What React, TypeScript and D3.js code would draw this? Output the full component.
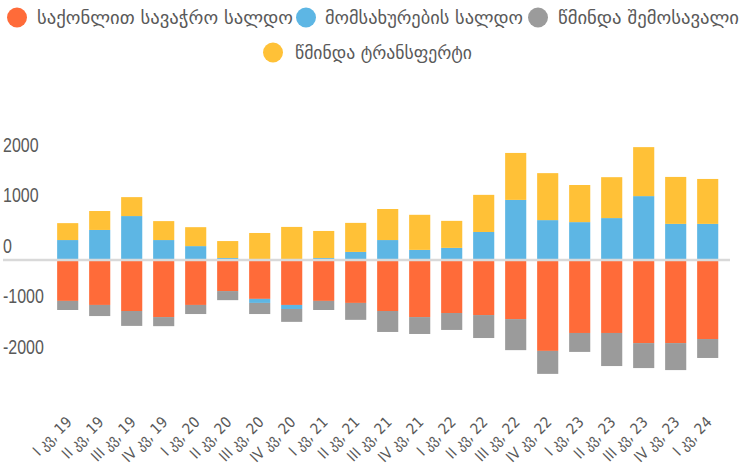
import React from "react"
import * as d3 from "d3"

// კვარტლები
const quarters = [
  "I კვ, 19", "II კვ, 19", "III კვ, 19", "IV კვ, 19",
  "I კვ, 20", "II კვ, 20", "III კვ, 20", "IV კვ, 20",
  "I კვ, 21", "II კვ, 21", "III კვ, 21", "IV კვ, 21",
  "I კვ, 22", "II კვ, 22", "III კვ, 22", "IV კვ, 22",
  "I კვ, 23", "II კვ, 23", "III კვ, 23", "IV კვ, 23",
  "I კვ, 24",
]

const tradeBalance = [-810, -890, -1010, -1130, -890, -615, -770, -890, -810, -850, -1010, -1130, -1050, -1090, -1170, -1800, -1445, -1445, -1645, -1645, -1565]
const servicesBalance = [395, 595, 870, 395, 275, 40, -80, -80, 40, 160, 395, 200, 240, 555, 1190, 790, 750, 830, 1265, 715, 715]
const netIncome = [-180, -220, -295, -180, -180, -180, -220, -255, -180, -335, -415, -335, -335, -455, -615, -455, -375, -655, -495, -535, -375]
const netTransfers = [335, 375, 375, 375, 375, 335, 535, 655, 535, 575, 615, 695, 535, 735, 930, 930, 735, 810, 970, 930, 890]

const seriesNames = ["საქონლით სავაჭრო სალდო", "მომსახურების სალდო", "წმინდა შემოსავალი", "წმინდა ტრანსფერტი"]
const seriesColors = ["#FF6B39", "#5DB6E4", "#9B9B9B", "#FFC137"]
const yTicks = [-2000, -1000, 0, 1000, 2000]

const W = 740
const H = 465
const textColor = "#595959"

export default function App() {
  const keys = ["trade", "services", "income", "transfers"]
  const rows = quarters.map((q, i) => ({
    q,
    trade: tradeBalance[i],
    services: servicesBalance[i],
    income: netIncome[i],
    transfers: netTransfers[i],
  }))

  const stacked = d3.stack<any>().keys(keys).offset(d3.stackOffsetDiverging)(rows)

  const x = d3.scaleBand().domain(quarters).range([51.7, 723.7]).paddingInner(0.34).paddingOuter(0.17)
  const y = d3.scaleLinear().domain([-2000, 2000]).range([361, 159])

  const legendItems = [
    { cx: 17, cy: 17.5, tx: 37, len: 256 },
    { cx: 306, cy: 17.5, tx: 325, len: 198 },
    { cx: 538, cy: 17.5, tx: 558, len: 181 },
    { cx: 273, cy: 52.5, tx: 295, len: 177 },
  ]

  return (
    <svg width={W} height={H} style={{ position: "absolute", left: 0, top: 0, background: "#fff" }}>
      {legendItems.map((l, i) => (
        <g key={i}>
          <circle cx={l.cx} cy={l.cy} r={10} fill={seriesColors[i]} />
          <text
            x={l.tx}
            y={l.cy + 6}
            fontFamily="'DejaVu Sans Condensed', 'DejaVu Sans', sans-serif"
            fontSize={18}
            fill={textColor}
            textLength={l.len}
            lengthAdjust="spacingAndGlyphs"
          >
            {seriesNames[i]}
          </text>
        </g>
      ))}

      {yTicks.map((t) => (
        <text
          key={t}
          transform={`translate(3,${y(t) - 14}) scale(0.82,1)`}
          dy="0.35em"
          fontFamily="'Liberation Sans', Arial, sans-serif"
          fontSize={19.5}
          fill={textColor}
        >
          {t}
        </text>
      ))}

      {stacked.map((s, si) => (
        <g key={s.key} fill={seriesColors[si]}>
          {s.map((d, i) => (
            <rect
              key={i}
              x={x(quarters[i])}
              width={x.bandwidth()}
              y={y(Math.max(d[0], d[1]))}
              height={Math.abs(y(d[0]) - y(d[1]))}
            />
          ))}
        </g>
      ))}

      <line x1={3} x2={730} y1={y(0)} y2={y(0)} stroke="#D9D9D9" strokeWidth={2.5} />

      {quarters.map((q) => {
        const cx = (x(q) as number) + x.bandwidth() / 2
        return (
          <text
            key={q}
            transform={`translate(${cx + 5},${423}) rotate(-45)`}
            textAnchor="end"
            fontFamily="'DejaVu Sans Condensed', 'DejaVu Sans', sans-serif"
            fontSize={15}
            fill={textColor}
          >
            {q}
          </text>
        )
      })}
    </svg>
  )
}
